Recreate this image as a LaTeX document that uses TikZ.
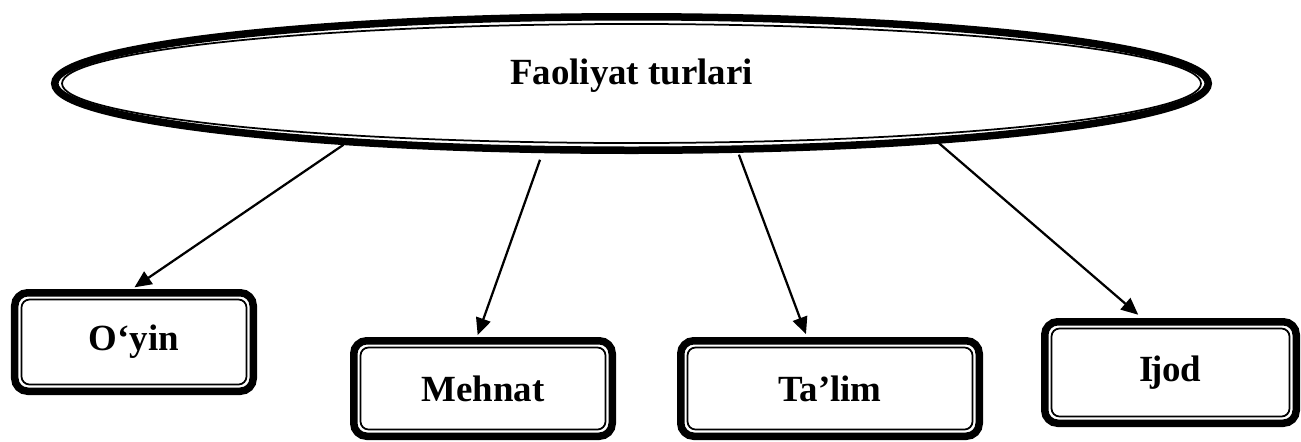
\documentclass[tikz,border=0pt]{standalone}
\usepackage{fontspec}
\setmainfont{Liberation Serif}
\usetikzlibrary{shapes.geometric, arrows.meta}

\begin{document}
\begin{tikzpicture}[
    kind/.style={draw, line width=0.15cm, rounded corners=0.26cm, inner sep=0pt,
      font=\bfseries\fontsize{21}{25}\selectfont,
      append after command={\pgfextra{
        \draw[line width=0.035cm, rounded corners=0.16cm]
          ([shift={(0.21,0.21)}]\tikzlastnode.south west) rectangle
          ([shift={(-0.21,-0.21)}]\tikzlastnode.north east);}}},
    link/.style={line width=0.045cm, -{Triangle[length=0.34cm, width=0.3cm]}}
  ]
    %\draw[style=help lines,very thin] (0, 0) grid (26, 9);
    \useasboundingbox (0, 0) rectangle (26.02, 8.82);

    \node[draw, ellipse, line width=0.15cm, inner sep=0pt,
      minimum width=23.07cm, minimum height=2.67cm,
      append after command={\pgfextra{
        \draw[line width=0.035cm] (\tikzlastnode.center)
          ellipse [x radius=11.39cm, y radius=1.19cm];}}]
      (kinds) at (12.63, 7.15) {};
    \node[font=\bfseries\fontsize{21}{25}\selectfont]
      (title) at ([yshift=0.16cm]kinds.center) {Faoliyat turlari};

    \node[kind, minimum width=4.77cm, minimum height=1.97cm] (oyin) at (2.68, 1.98) {O‘yin};
    \node[kind, minimum width=5.17cm, minimum height=1.91cm] (mehnat) at (9.66, 1.05) {Mehnat};
    \node[kind, minimum width=5.97cm, minimum height=1.91cm] (talim) at (16.6, 1.05) {Ta’lim};
    \node[kind, minimum width=5.03cm, minimum height=2.03cm] (ijod) at (23.41, 1.37) {I\kern-0.1em jod};

    \draw[link, shorten >=0.06cm] (kinds.192) -- ([xshift=-0.04cm]oyin.north);
    \draw[link, shorten <=0.14cm, shorten >=0.04cm] (kinds.218) -- ([xshift=-0.12cm]mehnat.north);
    \draw[link, shorten <=0.04cm, shorten >=0.06cm] (kinds.327) -- ([xshift=-0.46cm]talim.north);
    \draw[link, shorten >=0.1cm] (kinds.349) -- ([xshift=-0.57cm]ijod.north);
  \end{tikzpicture}
\end{document}
